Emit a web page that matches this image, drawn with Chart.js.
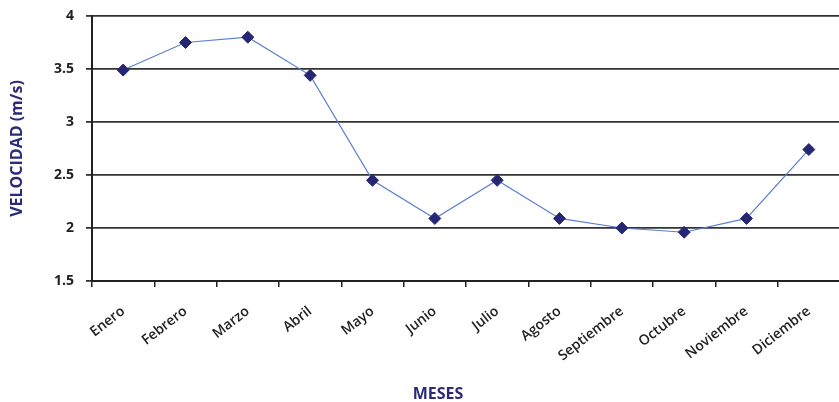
<!DOCTYPE html>
<html>
<head>
<meta charset="utf-8">
<script src="https://cdn.jsdelivr.net/npm/chart.js@4/dist/chart.umd.min.js"></script>
<style>
  html, body { margin: 0; padding: 0; background: #fff; overflow: hidden; }
  #wrap { width: 847px; height: 402px; }
  #c { width: 847px !important; height: 402px !important; display: block; }
</style>
</head>
<body>
<div id="wrap"><canvas id="c" width="847" height="402"></canvas></div>
<script>
// Velocidad media mensual del viento
const meses = ['Enero', 'Febrero', 'Marzo', 'Abril', 'Mayo', 'Junio', 'Julio',
               'Agosto', 'Septiembre', 'Octubre', 'Noviembre', 'Diciembre'];
const velocidad = [3.49, 3.75, 3.80, 3.44, 2.45, 2.09, 2.45, 2.09, 2.00, 1.96, 2.09, 2.74];
const yMin = 1.5;
const yMax = 4;
const yStep = 0.5;
const tituloY = 'VELOCIDAD (m/s)';
const tituloX = 'MESES';

const navy = '#2b2b78';

// bottom axis title, placed slightly left of the plot centre
const xTitlePlugin = {
  id: 'xTitle',
  afterDraw(chart) {
    const ctx = chart.ctx;
    ctx.save();
    ctx.font = 'bold 16px "Open Sans", sans-serif';
    ctx.fillStyle = navy;
    ctx.textAlign = 'center';
    ctx.textBaseline = 'middle';
    ctx.fillText(tituloX, 438, 394);
    ctx.restore();
  }
};

new Chart(document.getElementById('c'), {
  type: 'line',
  data: {
    labels: meses,
    datasets: [{
      data: velocidad,
      borderColor: '#5a7fd2',
      borderWidth: 1.2,
      pointStyle: 'rectRot',
      pointRadius: 6,
      pointHoverRadius: 6,
      pointBackgroundColor: '#262673',
      pointBorderColor: '#262673',
      pointBorderWidth: 1,
      tension: 0,
      clip: false
    }]
  },
  options: {
    responsive: false,
    animation: false,
    events: [],
    layout: { padding: { top: 16, right: -6, left: 0, bottom: 0 } },
    plugins: { legend: { display: false }, tooltip: { enabled: false } },
    scales: {
      x: {
        offset: true,
        grid: {
          offset: true,
          drawOnChartArea: false,
          drawTicks: true,
          tickLength: 6,
          color: '#222',
          lineWidth: 1.5
        },
        border: { display: true, color: '#222', width: 2 },
        ticks: {
          autoSkip: false,
          minRotation: 38,
          maxRotation: 38,
          padding: 16,
          color: '#222',
          font: { family: '"Open Sans", sans-serif', size: 14, weight: '600' }
        },
        afterFit(s) {
          s.height = 121;
          s.paddingLeft = 0;
          s.paddingRight = 0;
        }
      },
      y: {
        min: yMin,
        max: yMax,
        ticks: {
          stepSize: yStep,
          padding: 12,
          color: '#222',
          callback: v => String(v),
          font: { family: '"Open Sans", sans-serif', size: 14, weight: 'bold' }
        },
        grid: {
          color: '#333',
          lineWidth: 1.8,
          drawTicks: true,
          tickLength: 6
        },
        border: { display: true, color: '#222', width: 2 },
        title: {
          display: true,
          text: tituloY,
          color: navy,
          padding: { top: 8, bottom: 0 },
          font: { family: '"Open Sans", sans-serif', size: 16, weight: 'bold' }
        },
        afterFit(s) {
          s.width = 92;
          s.paddingTop = 0;
          s.paddingBottom = 0;
        }
      }
    }
  },
  plugins: [xTitlePlugin]
});
</script>
</body>
</html>
